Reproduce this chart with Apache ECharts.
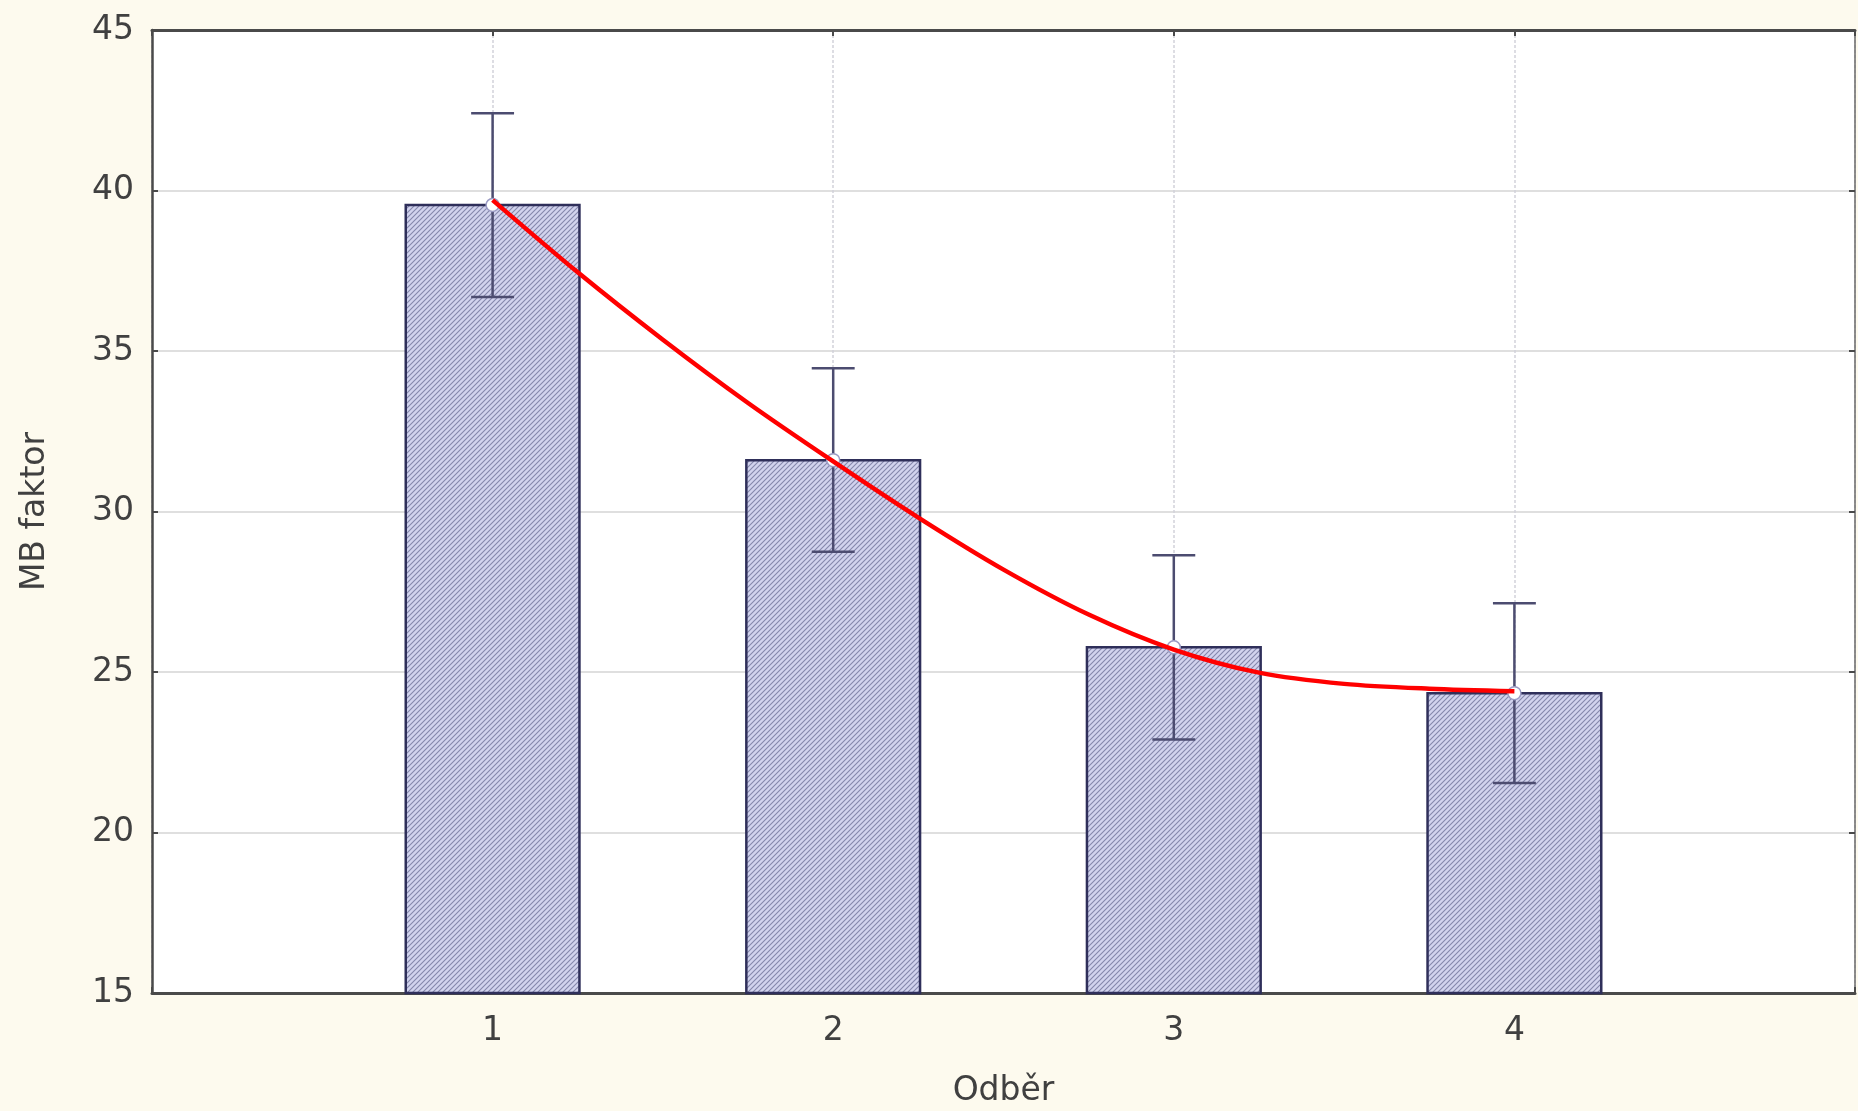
<!DOCTYPE html>
<html>
<head>
<meta charset="utf-8">
<script src="https://cdn.jsdelivr.net/npm/echarts@6/dist/echarts.min.js"></script>
<style>
html,body{margin:0;padding:0;background:#FDFAEE;}
#chart{width:1858px;height:1111px;}
</style>
</head>
<body>
<div id="chart"></div>
<script>
// ---- data ----
const categories = [1, 2, 3, 4];
const xTickLabels = ['1', '2', '3', '4'];
const means = [39.55, 31.6, 25.77, 24.34];
const upper = [42.41, 34.46, 28.64, 27.14];
const lower = [36.68, 28.75, 22.9, 21.54];
const yTicks = [15, 20, 25, 30, 35, 40, 45];
// red fitted curve
const fitX = [1.0, 1.25, 1.5, 1.75, 2.0, 2.25, 2.5, 2.75, 3.0, 3.25, 3.5, 3.75, 4.0];
const fitY = [39.7, 37.45, 35.35, 33.38, 31.56, 29.81, 28.19, 26.79, 25.7, 24.98, 24.63, 24.48, 24.4];
const xName = 'Odběr';
const yName = 'MB faktor';

// ---- style ----
const BAR_W = 0.51;
const CAP_W = 0.063;
const FONT = 'DejaVu Sans';

// hatch pattern
const tile = document.createElement('canvas');
const S = 5;
tile.width = S; tile.height = S;
const c = tile.getContext('2d');
c.fillStyle = '#d2d3ee';
c.fillRect(0, 0, S, S);
c.strokeStyle = '#8587ab';
c.lineWidth = 1.1;
c.beginPath();
c.moveTo(-1, S + 1); c.lineTo(S + 1, -1);
c.moveTo(-1, 1); c.lineTo(1, -1);
c.moveTo(S - 1, S + 1); c.lineTo(S + 1, S - 1);
c.stroke();

const barData = categories.map((x, i) => [x, means[i]]);
const errData = categories.map((x, i) => [x, lower[i], upper[i], means[i]]);
const fitData = fitX.map((x, i) => [x, fitY[i]]);

const chart = echarts.init(document.getElementById('chart'));
const labelStyle = {fontFamily: FONT, fontSize: 33, color: '#404040'};

chart.setOption({
  backgroundColor: '#FDFAEE',
  animation: false,
  grid: {left: 152, right: 3, top: 30, bottom: 118, show: true, backgroundColor: '#ffffff', borderWidth: 0,
         containLabel: false, outerBoundsMode: 'none'},
  xAxis: [{
    type: 'value', min: 0, max: 5, interval: 1, position: 'bottom',
    name: xName, nameLocation: 'middle', nameGap: 82,
    nameTextStyle: labelStyle,
    axisLine: {show: true, onZero: false, lineStyle: {color: '#4a4a4a', width: 3}},
    axisTick: {show: true, inside: true, length: 6, lineStyle: {color: '#4a4a4a', width: 2}},
    axisLabel: Object.assign({margin: 22, formatter: v => (v >= 1 && v <= 4) ? xTickLabels[v - 1] : ''}, labelStyle),
    splitLine: {show: true, lineStyle: {color: '#d2d2da', width: 1.5, type: [3, 2]}}
  }, {
    type: 'value', min: 0, max: 5, interval: 1, position: 'top',
    axisLine: {show: true, onZero: false, lineStyle: {color: '#4a4a4a', width: 3}},
    axisTick: {show: true, inside: true, length: 6, lineStyle: {color: '#4a4a4a', width: 2}},
    axisLabel: {show: false}, splitLine: {show: false}
  }],
  yAxis: [{
    type: 'value', min: 15, max: 45, interval: 5, position: 'left',
    name: yName, nameLocation: 'middle', nameGap: 100, nameRotate: 90,
    nameTextStyle: labelStyle,
    axisLine: {show: true, onZero: false, lineStyle: {color: '#4a4a4a', width: 2.5}},
    axisTick: {show: true, inside: true, length: 6, lineStyle: {color: '#4a4a4a', width: 2}},
    axisLabel: Object.assign({margin: 18, formatter: v => String(yTicks[yTicks.indexOf(v)])}, labelStyle),
    splitLine: {show: true, lineStyle: {color: '#d4d4d4', width: 1.5}}
  }, {
    type: 'value', min: 15, max: 45, interval: 5, position: 'right',
    axisLine: {show: true, onZero: false, lineStyle: {color: '#6a6a6a', width: 1.5}},
    axisTick: {show: true, inside: true, length: 6, lineStyle: {color: '#4a4a4a', width: 2}},
    axisLabel: {show: false}, splitLine: {show: false}
  }],
  series: [{
    type: 'custom', name: 'bars', xAxisIndex: 0, yAxisIndex: 0, z: 2,
    data: barData,
    encode: {x: 0, y: 1},
    renderItem: (params, api) => {
      const x = api.value(0), v = api.value(1);
      const p1 = api.coord([x - BAR_W / 2, v]);
      const p2 = api.coord([x + BAR_W / 2, 15]);
      return {
        type: 'rect',
        shape: {x: p1[0], y: p1[1], width: p2[0] - p1[0], height: p2[1] - p1[1]},
        style: {fill: {image: tile, repeat: 'repeat'}, stroke: '#2f2f5a', lineWidth: 2.5}
      };
    }
  }, {
    type: 'custom', name: 'err', xAxisIndex: 0, yAxisIndex: 0, z: 3,
    data: errData,
    encode: {x: 0, y: [1, 2]},
    renderItem: (params, api) => {
      const x = api.value(0);
      const lo = api.coord([x, api.value(1)]);
      const hi = api.coord([x, api.value(2)]);
      const m = api.coord([x, api.value(3)]);
      const hw = api.size([CAP_W, 0])[0];
      const st = {stroke: '#4c4c70', lineWidth: 2.5};
      return {
        type: 'group',
        children: [
          {type: 'line', shape: {x1: lo[0], y1: lo[1], x2: hi[0], y2: hi[1]}, style: st},
          {type: 'line', shape: {x1: hi[0] - hw, y1: hi[1], x2: hi[0] + hw, y2: hi[1]}, style: st},
          {type: 'line', shape: {x1: lo[0] - hw, y1: lo[1], x2: lo[0] + hw, y2: lo[1]}, style: st},
          {type: 'circle', shape: {cx: m[0], cy: m[1], r: 6.5}, style: {fill: '#ffffff', stroke: '#9b9bc4', lineWidth: 1.5}}
        ]
      };
    }
  }, {
    type: 'line', name: 'fit', xAxisIndex: 0, yAxisIndex: 0, z: 4,
    data: fitData, smooth: 0.3, showSymbol: false, symbol: 'none',
    lineStyle: {color: '#ff0000', width: 4.5}
  }]
});
</script>
</body>
</html>
